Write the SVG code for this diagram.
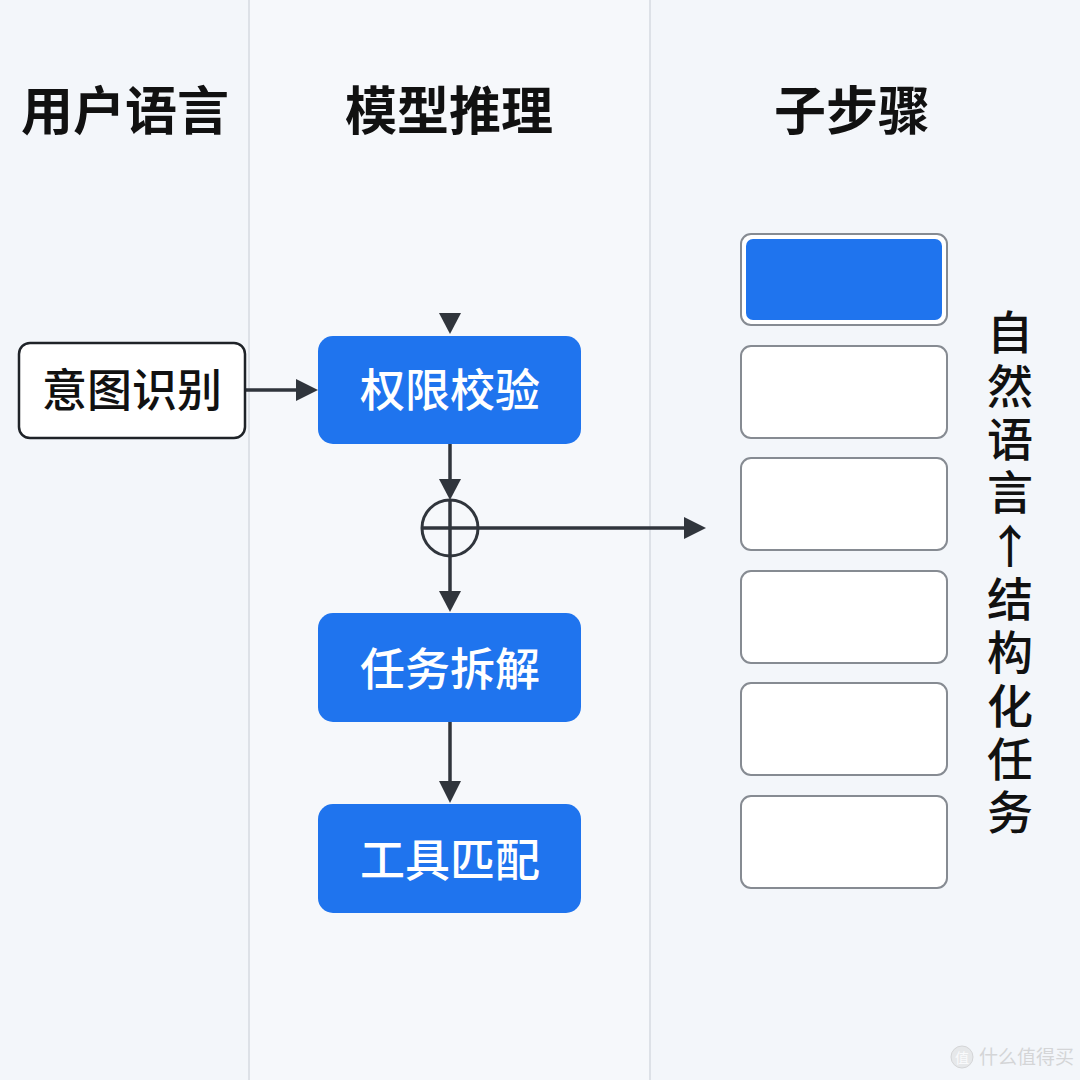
<svg xmlns="http://www.w3.org/2000/svg" width="1080" height="1080" viewBox="0 0 1080 1080">
<style>
.hdr{font-family:"Noto Sans CJK SC","Noto Sans",sans-serif;font-weight:700;font-size:52px;fill:#111;text-anchor:middle}
.blue rect{fill:#1f74ee}
.blue text{font-family:"Noto Sans CJK SC","Noto Sans",sans-serif;font-weight:500;font-size:45px;fill:#fff;text-anchor:middle}
.white rect{fill:#fff;stroke:#1f2328;stroke-width:2.5}
.white text{font-family:"Noto Sans CJK SC","Noto Sans",sans-serif;font-weight:500;font-size:45px;fill:#111;text-anchor:middle}
.step{fill:#fff;stroke:#868b92;stroke-width:2}
.conn{stroke:#30353c;stroke-width:3.5;fill:none}
.side{font-family:"Noto Sans CJK SC","Noto Sans",sans-serif;font-weight:500;font-size:46px;fill:#111;writing-mode:vertical-rl;text-orientation:upright;letter-spacing:7.3px}
</style>
<rect x="0" y="0" width="1080" height="1080" fill="#f3f6fa"/>
<rect x="249" y="0" width="401" height="1080" fill="#f6f8fb"/>
<line x1="249" y1="0" x2="249" y2="1080" stroke="#dde1e7" stroke-width="2"/>
<line x1="650" y1="0" x2="650" y2="1080" stroke="#dde1e7" stroke-width="2"/>

<g id="headers">
<text class="hdr" x="125" y="130">用户语言</text>
<text class="hdr" x="449" y="130">模型推理</text>
<text class="hdr" x="852" y="130">子步骤</text>
</g>

<g id="connectors">
<path d="M439,313 L461,313 L450,334 Z" fill="#30353c"/>
<line class="conn" x1="245" y1="390" x2="297" y2="390"/>
<path d="M296,379 L318,390 L296,401 Z" fill="#30353c"/>
<line class="conn" x1="450" y1="444" x2="450" y2="482"/>
<path d="M439,479 L461,479 L450,500 Z" fill="#30353c"/>
<circle cx="450" cy="528" r="28" fill="none" stroke="#30353c" stroke-width="3"/>
<line class="conn" x1="422" y1="528" x2="478" y2="528"/>
<line class="conn" x1="450" y1="500" x2="450" y2="594"/>
<path d="M439,591 L461,591 L450,612 Z" fill="#30353c"/>
<line class="conn" x1="478" y1="528" x2="688" y2="528"/>
<path d="M684,517 L706,528 L684,539 Z" fill="#30353c"/>
<line class="conn" x1="450" y1="722" x2="450" y2="784"/>
<path d="M439,781 L461,781 L450,803 Z" fill="#30353c"/>
</g>

<g id="n-intent" class="white">
<rect x="19" y="343" width="226" height="95" rx="11"/>
<text x="132" y="407">意图识别</text>
</g>
<g id="n-auth" class="blue">
<rect x="318" y="336" width="263" height="108" rx="15"/>
<text x="450" y="407">权限校验</text>
</g>
<g id="n-decomp" class="blue">
<rect x="318" y="613" width="263" height="109" rx="15"/>
<text x="450" y="686">任务拆解</text>
</g>
<g id="n-tool" class="blue">
<rect x="318" y="804" width="263" height="109" rx="15"/>
<text x="450" y="877">工具匹配</text>
</g>

<g id="steps">
<g id="s1"><rect class="step" x="741" y="234" width="206" height="91" rx="10"/><rect x="746" y="239" width="196" height="81" rx="7" fill="#1f74ee"/></g>
<g id="s2"><rect class="step" x="741" y="346" width="206" height="92" rx="10"/></g>
<g id="s3"><rect class="step" x="741" y="458" width="206" height="92" rx="10"/></g>
<g id="s4"><rect class="step" x="741" y="571" width="206" height="92" rx="10"/></g>
<g id="s5"><rect class="step" x="741" y="683" width="206" height="92" rx="10"/></g>
<g id="s6"><rect class="step" x="741" y="796" width="206" height="92" rx="10"/></g>
</g>

<g id="side-label">
<text class="side" x="1010" y="309">自然语言↑结构化任务</text>
</g>

<g id="watermark" opacity="0.55">
<circle cx="962" cy="1057" r="11" fill="#ddd" stroke="#bbb" stroke-width="1"/>
<text x="962" y="1063" font-family="Noto Sans CJK SC,sans-serif" font-size="14" fill="#fff" text-anchor="middle">值</text>
<text x="979" y="1064" font-family="Noto Sans CJK SC,sans-serif" font-size="19" fill="#bbb">什么值得买</text>
</g>
</svg>
